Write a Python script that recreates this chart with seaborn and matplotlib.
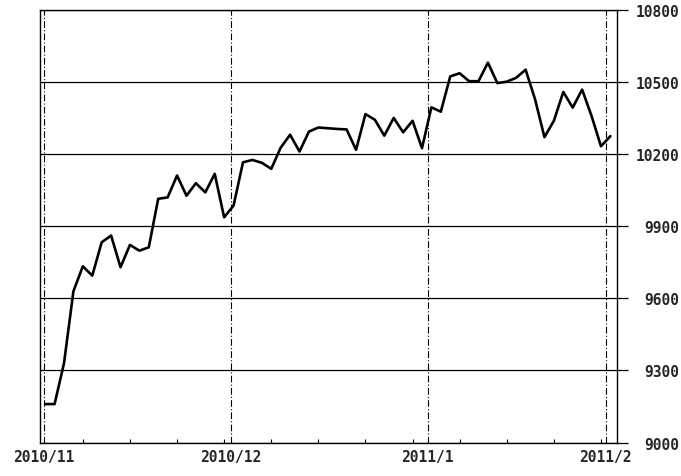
import numpy as np
import pandas as pd
import matplotlib
matplotlib.use("Agg")
import matplotlib.pyplot as plt
import seaborn as sns

# daily closes, one per trading day (Nov 1 2010 .. Feb 1 2011)
closes = [9160, 9160, 9330, 9630, 9734, 9695, 9834, 9862, 9730, 9823,
          9799, 9813, 10015, 10021, 10112, 10028, 10080, 10042, 10119, 9938,
          9987, 10167, 10177, 10165, 10140, 10228, 10282, 10212, 10295, 10312,
          10309, 10306, 10304, 10219, 10368, 10344, 10278, 10352, 10292, 10340,
          10226, 10396, 10378, 10525, 10538, 10505, 10505, 10582, 10497, 10503,
          10519, 10553, 10430, 10272, 10340, 10460, 10395, 10470, 10360, 10234,
          10276]
month_labels = ["2010/11", "2010/12", "2011/1", "2011/2"]
month_pos = [-0.1, 19.7, 40.6, 59.5]
y_ticks = [9000, 9300, 9600, 9900, 10200, 10500, 10800]

df = pd.DataFrame({"day": np.arange(len(closes)), "close": closes})

sns.set_style("white")
plt.rcParams["font.family"] = ["DejaVu Sans Mono", "DejaVu Sans"]

fig = plt.figure(figsize=(6.81, 4.77), dpi=100)
ax = fig.add_axes([0.0587, 0.0702, 0.8473, 0.906])

sns.lineplot(data=df, x="day", y="close", color="black", linewidth=1.9, ax=ax)

ax.set_xlim(-0.55, 60.7)
ax.set_ylim(9000, 10800)

# horizontal grid
for v in y_ticks:
    ax.axhline(v, color="black", linewidth=0.9, zorder=1)
# month lines
for p in month_pos:
    ax.axvline(p, color="black", linewidth=0.8, linestyle=(0, (6, 2, 1, 2)), zorder=1)

ax.yaxis.tick_right()
ax.set_yticks(y_ticks)
ax.set_yticklabels([str(v) for v in y_ticks], fontsize=10.5, fontweight="bold")
for lab in ax.get_yticklabels():
    lab.set_horizontalalignment("right")
ax.set_xticks(month_pos)
ax.set_xticklabels(month_labels, fontsize=10.5, fontweight="bold")
ax.set_xticks(np.arange(4, 60, 5), minor=True)
ax.tick_params(axis="y", which="major", direction="out", length=8, width=0.9,
               color="black", right=True, left=False, pad=37)
ax.tick_params(axis="x", which="major", direction="inout", length=6, width=0.9,
               color="black", pad=2)
ax.tick_params(axis="x", which="minor", direction="in", length=3, width=0.8,
               color="black", bottom=True)
ax.set_xlabel("")
ax.set_ylabel("")

for s in ax.spines.values():
    s.set_color("black")
    s.set_linewidth(1.0)

fig.savefig("out.png", dpi=100)
